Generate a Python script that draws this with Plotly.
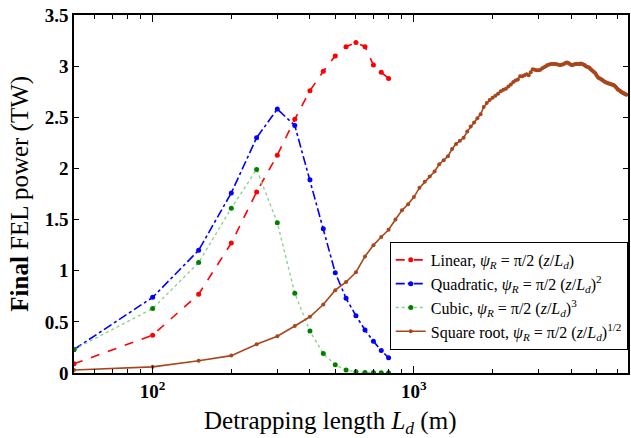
import plotly.graph_objects as go

L_short = [50, 100, 150, 200, 250, 300, 350, 400, 450, 500, 550, 600, 650, 700, 750, 800]
linear = [0.09, 0.37, 0.77, 1.27, 1.77, 2.13, 2.48, 2.76, 2.95, 3.10, 3.19, 3.23, 3.19, 3.01, 2.94, 2.88]
quadratic = [0.23, 0.74, 1.20, 1.76, 2.30, 2.58, 2.42, 1.89, 1.41, 0.98, 0.73, 0.56, 0.42, 0.31, 0.22, 0.15]
cubic = [0.23, 0.63, 1.08, 1.61, 1.99, 1.47, 0.78, 0.41, 0.19, 0.08, 0.03, 0.012, 0.006, 0.004, 0.003, 0.002]

L_sqrt = list(range(50, 6650, 50))
sqrt_vals = [
    0.03, 0.06, 0.12, 0.17, 0.28, 0.36, 0.46, 0.55, 0.67, 0.81, 0.89, 0.985,
    1.14, 1.25, 1.33, 1.40, 1.50, 1.59, 1.65, 1.72, 1.81, 1.87, 1.92, 1.97,
    2.04, 2.08, 2.12, 2.19, 2.24, 2.27, 2.30, 2.36, 2.41, 2.45, 2.49, 2.53,
    2.60, 2.64, 2.67, 2.69, 2.71, 2.73, 2.755, 2.77, 2.78, 2.80, 2.82, 2.845,
    2.86, 2.87, 2.90, 2.90, 2.91, 2.92, 2.91, 2.94, 2.97, 2.965, 2.96, 2.96,
    2.965, 2.98, 2.99, 3.00, 3.01, 3.015, 3.02, 3.02, 3.02, 3.02, 3.015, 3.01,
    3.01, 3.015, 3.02, 3.03, 3.035, 3.03, 3.02, 3.01, 3.01, 3.015, 3.02, 3.02,
    3.02, 3.02, 3.025, 3.02, 3.015, 3.01, 3.00, 2.995, 2.99, 2.985, 2.97, 2.96,
    2.95, 2.94, 2.93, 2.91, 2.895, 2.885, 2.88, 2.875, 2.865, 2.86, 2.85, 2.845,
    2.84, 2.835, 2.83, 2.83, 2.825, 2.82, 2.82, 2.815, 2.81, 2.80, 2.79, 2.78,
    2.77, 2.765, 2.76, 2.75, 2.745, 2.74, 2.735, 2.73, 2.725, 2.72,
]
L_sqrt = L_sqrt[:len(sqrt_vals)]

x_major = [100, 1000]
x_major_text = ["<b>10<sup>2</sup></b>", "<b>10<sup>3</sup></b>"]
x_minor = [60, 70, 80, 90, 200, 300, 400, 500, 600, 700, 800, 900, 2000, 3000, 4000, 5000, 6000]
y_ticks = [0, 0.5, 1, 1.5, 2, 2.5, 3, 3.5]
y_ticktext = ["<b>0</b>", "<b>0.5</b>", "<b>1</b>", "<b>1.5</b>", "<b>2</b>", "<b>2.5</b>", "<b>3</b>", "<b>3.5</b>"]

SERIF = "'Liberation Serif', 'Times New Roman', Times, 'DejaVu Serif', serif"

fig = go.Figure()
fig.add_trace(go.Scatter(
    x=L_short, y=linear, mode="lines+markers",
    name="Linear, <i>ψ<sub>R</sub></i> = π/2 (<i>z</i>/<i>L<sub>d</sub></i>)",
    line=dict(color="#ff0000", dash="dash", width=1.6),
    marker=dict(color="#ff0000", size=5)))
fig.add_trace(go.Scatter(
    x=L_short, y=quadratic, mode="lines+markers",
    name="Quadratic, <i>ψ<sub>R</sub></i> = π/2 (<i>z</i>/<i>L<sub>d</sub></i>)<sup>2</sup>",
    line=dict(color="#0000ff", dash="dashdot", width=1.6),
    marker=dict(color="#0000ff", size=5)))
fig.add_trace(go.Scatter(
    x=L_short, y=cubic, mode="lines+markers",
    name="Cubic, <i>ψ<sub>R</sub></i> = π/2 (<i>z</i>/<i>L<sub>d</sub></i>)<sup>3</sup>",
    line=dict(color="#8fd08f", dash="dot", width=1.4),
    marker=dict(color="#008000", size=5)))
fig.add_trace(go.Scatter(
    x=L_sqrt, y=sqrt_vals, mode="lines+markers",
    name="Square root, <i>ψ<sub>R</sub></i> = π/2 (<i>z</i>/<i>L<sub>d</sub></i>)<sup>1/2</sup>",
    line=dict(color="#a8461c", width=1.6),
    marker=dict(color="#a8461c", size=4)))

fig.update_layout(
    width=631, height=438,
    margin=dict(l=74, r=1, t=15, b=65),
    paper_bgcolor="white", plot_bgcolor="white",
    font=dict(family=SERIF, color="black", size=16),
    showlegend=True,
    legend=dict(x=0.57, y=0.366, xanchor="left", yanchor="top",
                bordercolor="black", borderwidth=1, bgcolor="white",
                font=dict(family=SERIF, size=16, color="black"), tracegroupgap=0,
                itemwidth=30),
    xaxis=dict(type="log", range=[1.69897, 3.8195],
               tickvals=x_major, ticktext=x_major_text,
               ticks="inside", ticklen=7, tickwidth=1, tickcolor="black",
               showline=True, linecolor="black", linewidth=1.5, mirror="ticks",
               showgrid=False, zeroline=False,
               tickfont=dict(family=SERIF, size=19, color="black"),
               minor=dict(tickvals=x_minor, ticks="inside", ticklen=4,
                          tickcolor="black", showgrid=False)),
    yaxis=dict(range=[0, 3.5], tickvals=y_ticks, ticktext=y_ticktext,
               ticks="inside", ticklen=5, tickwidth=1, tickcolor="black",
               showline=True, linecolor="black", linewidth=1.5, mirror="ticks",
               showgrid=False, zeroline=False,
               tickfont=dict(family=SERIF, size=19, color="black")),
    annotations=[
        dict(text="Detrapping length <i>L<sub>d</sub></i> (m)",
             xref="paper", yref="paper", x=0.462, y=-0.139,
             xanchor="center", yanchor="middle", showarrow=False,
             font=dict(family=SERIF, size=25, color="black")),
        dict(text="<b>Final</b> FEL power (TW)",
             xref="paper", yref="paper", x=-0.098, y=0.5,
             xanchor="center", yanchor="middle", textangle=-90, showarrow=False,
             font=dict(family=SERIF, size=25, color="black")),
    ],
)

fig.write_html("out.html")
